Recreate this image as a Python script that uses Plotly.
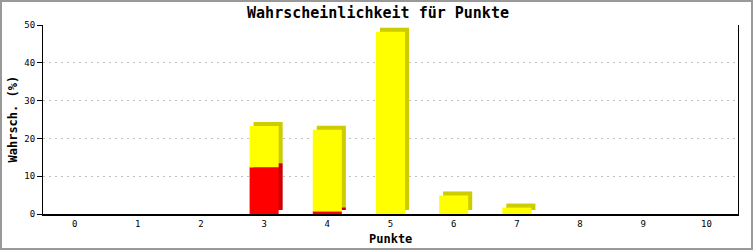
import plotly.graph_objects as go

# ---- data ----
categories = [0, 1, 2, 3, 4, 5, 6, 7, 8, 9, 10]
red_values = [0, 0, 0, 12.4, 0.7, 0, 0, 0, 0, 0, 0]
yellow_values = [0, 0, 0, 10.9, 21.6, 48.2, 4.9, 1.7, 0, 0, 0]
y_ticks = [0, 10, 20, 30, 40, 50]

title_text = "Wahrscheinlichkeit für Punkte"
x_title = "Punkte"
y_title = "Wahrsch. (%)"

# ---- layout constants ----
W, H = 753, 250
ML, MR, MT, MB = 43, 15, 25, 36
PW, PH = W - ML - MR, H - MT - MB
X_RANGE = [-0.5, 10.5]
Y_RANGE = [0, 50]
BAR_W = 0.46
DEPTH_X = 4 * (X_RANGE[1] - X_RANGE[0]) / PW
DEPTH_Y = 4 * (Y_RANGE[1] - Y_RANGE[0]) / PH

FONT = "DejaVu Sans Mono"


def nz(v):
    return [x if x else None for x in v]


red_nz = nz(red_values)
yellow_nz = nz(yellow_values)
yellow_base = [r for r in red_values]

fig = go.Figure()
# shadows (3D side/top faces)
fig.add_bar(x=categories, y=yellow_nz, base=[b + DEPTH_Y for b in yellow_base],
            width=BAR_W, offset=-BAR_W / 2 + DEPTH_X,
            marker=dict(color="#cccc00", line=dict(width=0)), hoverinfo="skip")
fig.add_bar(x=categories, y=red_nz, base=[DEPTH_Y] * len(categories),
            width=BAR_W, offset=-BAR_W / 2 + DEPTH_X,
            marker=dict(color="#cc0000", line=dict(width=0)), hoverinfo="skip")
# fronts
fig.add_bar(x=categories, y=red_nz, base=[0] * len(categories),
            width=BAR_W, offset=-BAR_W / 2,
            marker=dict(color="#ff0000", line=dict(width=0)), name="rot")
fig.add_bar(x=categories, y=yellow_nz, base=yellow_base,
            width=BAR_W, offset=-BAR_W / 2,
            marker=dict(color="#ffff00", line=dict(width=0)), name="gelb")

fig.update_layout(
    width=W, height=H,
    margin=dict(l=ML, r=MR, t=MT, b=MB, pad=0),
    barmode="overlay",
    showlegend=False,
    plot_bgcolor="white", paper_bgcolor="white",
    font=dict(family=FONT, color="black", size=9),
    title=dict(text=title_text, x=(378) / W, xanchor="center",
               y=1 - 12.5 / H, yanchor="middle", yref="container",
               font=dict(family=FONT, size=15, color="black", weight="bold")),
    xaxis=dict(range=X_RANGE, tickmode="array", tickvals=categories,
               ticktext=[str(c) for c in categories],
               showline=True, linecolor="black", linewidth=2,
               showgrid=False, zeroline=False, ticks="",
               tickfont=dict(family=FONT, size=9), fixedrange=True),
    yaxis=dict(range=Y_RANGE, tickmode="array", tickvals=y_ticks,
               ticktext=[str(t) for t in y_ticks],
               showline=True, linecolor="black", linewidth=1, mirror=True,
               ticks="outside", ticklen=5, tickcolor="black", tickwidth=1,
               showgrid=True, gridcolor="#c0c0c0", gridwidth=1, griddash="2px,4px",
               zeroline=False, tickfont=dict(family=FONT, size=9), fixedrange=True),
    annotations=[
        dict(text=x_title, xref="paper", yref="paper",
             x=(391 - ML) / PW, y=-(239 - MT - PH) / PH,
             xanchor="center", yanchor="middle", showarrow=False,
             font=dict(family=FONT, size=12, color="black", weight="bold")),
        dict(text=y_title, xref="paper", yref="paper",
             x=(12 - ML) / PW, y=0.5, textangle=-90,
             xanchor="center", yanchor="middle", showarrow=False,
             font=dict(family=FONT, size=12, color="black", weight="bold")),
    ],
    shapes=[dict(type="rect", xref="paper", yref="paper",
                 x0=(1 - ML) / PW, x1=(W - 1 - ML) / PW,
                 y0=-(MB - 1) / PH, y1=1 + (MT - 1) / PH,
                 line=dict(color="#999999", width=2), layer="above")],
)

fig.write_html("out.html")
